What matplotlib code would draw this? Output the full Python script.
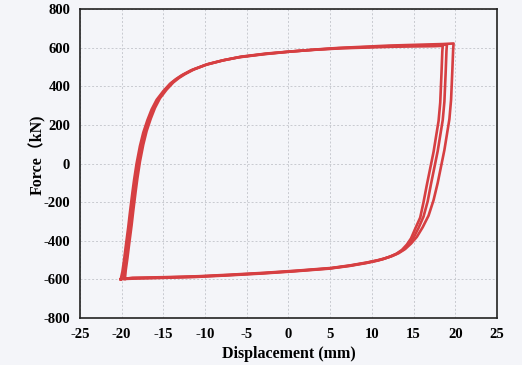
import matplotlib.pyplot as plt

plt.rcParams['axes.unicode_minus'] = False

# hysteresis loops (displacement mm, force kN)
loop1_x = [-20.1, -19.9, -19.7, -19.5, -19.2, -19.0, -18.7, -18.5, -18.2, -17.8, -17.4, -16.9,
           -16.4, -15.8, -15.0, -14.2, -13.5, -12.8, -11.7, -10.0, -8.0, -6.0, -3.0, 0.0,
           3.0, 6.0, 9.0, 12.0, 16.0, 18.5, 19.8,
           19.75, 19.65, 19.5, 19.3, 19.0, 18.7, 18.3, 17.9, 17.4, 16.8, 16.1, 15.4, 14.7,
           14.0, 13.2, 12.4, 11.5, 10.8, 9.5, 7.5, 5.2, 1.0, -2.8, -7.0, -10.8, -15.0,
           -18.7, -20.1]
loop1_y = [-600, -560, -500, -430, -330, -255, -150, -85, 0, 90, 160, 225,
           280, 330, 375, 413, 437, 457, 482, 510, 533, 550, 566, 579,
           590, 599, 605, 611, 616, 619, 622,
           590, 480, 330, 230, 150, 70, -15, -100, -190, -270, -330, -380, -415,
           -443, -465, -480, -492, -500, -512, -527, -541, -555, -566, -576, -584, -589,
           -592, -600]

loop2_x = [-19.8, -19.7, -19.5, -19.3, -19.0, -18.8, -18.5, -18.3, -18.0, -17.6, -17.2, -16.7,
           -16.2, -15.6, -14.8, -14.0, -13.3, -12.6, -11.5, -9.8, -7.8, -5.8, -2.8, 0.2,
           3.2, 6.2, 9.2, 12.2, 15.8, 18.0, 19.0,
           18.95, 18.85, 18.7, 18.5, 18.2, 17.9, 17.5, 17.1, 16.7, 16.2, 15.6, 15.0, 14.4,
           13.8, 13.0, 12.2, 11.4, 10.7, 9.4, 7.4, 5.0, 0.8, -3.0, -7.2, -11.0, -15.2,
           -18.5, -19.8]
loop2_y = [-596, -555, -495, -425, -325, -250, -145, -80, 5, 95, 165, 230,
           285, 335, 380, 418, 441, 461, 486, 513, 535, 552, 568, 580,
           590, 598, 603, 608, 612, 614, 616,
           585, 470, 320, 225, 145, 65, -20, -105, -195, -275, -334, -384, -418,
           -446, -467, -482, -494, -502, -514, -529, -543, -557, -568, -578, -586, -591,
           -594, -596]

loop3_x = [-19.6, -19.5, -19.3, -19.1, -18.8, -18.6, -18.3, -18.1, -17.8, -17.4, -17.0, -16.5,
           -16.0, -15.4, -14.6, -13.8, -13.1, -12.4, -11.3, -9.6, -7.6, -5.6, -2.6, 0.4,
           3.4, 6.4, 9.4, 12.4, 15.6, 17.5, 18.5,
           18.45, 18.35, 18.2, 18.0, 17.7, 17.4, 17.0, 16.6, 16.2, 15.8, 15.2, 14.7, 14.2,
           13.6, 12.9, 12.1, 11.3, 10.6, 9.3, 7.3, 4.8, 0.6, -3.2, -7.4, -11.2, -15.4,
           -18.3, -19.6]
loop3_y = [-598, -552, -490, -420, -320, -245, -140, -75, 10, 98, 168, 233,
           288, 338, 383, 420, 444, 463, 488, 516, 537, 554, 570, 581,
           590, 597, 601, 605, 607, 608, 610,
           580, 465, 315, 220, 140, 60, -25, -110, -200, -280, -338, -388, -420,
           -448, -469, -484, -496, -504, -516, -531, -545, -559, -570, -580, -588, -593,
           -596, -598]

x_ticks = [-25, -20, -15, -10, -5, 0, 5, 10, 15, 20, 25]
y_ticks = [-800, -600, -400, -200, 0, 200, 400, 600, 800]

red = '#d63f42'
bg = '#f4f5f9'

fig = plt.figure(figsize=(5.22, 3.65), dpi=100, facecolor=bg)
ax = fig.add_axes([0.153, 0.129, 0.799, 0.846], facecolor=bg)

for lx, ly in [(loop3_x, loop3_y), (loop2_x, loop2_y), (loop1_x, loop1_y)]:
    ax.plot(lx, ly, color=red, lw=1.9, solid_joinstyle='round')

ax.set_xlim(-25, 25)
ax.set_ylim(-800, 800)
ax.set_xticks(x_ticks)
ax.set_yticks(y_ticks)
ax.grid(True, color='#c8cad0', ls=(0, (2, 2)), lw=0.7)
ax.tick_params(length=0, pad=7)
for lab in ax.get_xticklabels() + ax.get_yticklabels():
    lab.set_fontfamily('Liberation Serif')
    lab.set_fontweight('bold')
    lab.set_fontsize(10.5)
for sp in ax.spines.values():
    sp.set_color('#222222')
    sp.set_linewidth(1.2)

ax.set_xlabel('Displacement (mm)', fontfamily='Liberation Serif', fontweight='bold',
              fontsize=11.5, labelpad=4)
ax.set_ylabel('Force（kN)', family=['Liberation Serif', 'Noto Sans CJK SC'],
              fontweight='bold', fontsize=11.5)
ax.yaxis.set_label_coords(-0.082, 0.53)

fig.savefig('out.png', dpi=100, facecolor=bg)
